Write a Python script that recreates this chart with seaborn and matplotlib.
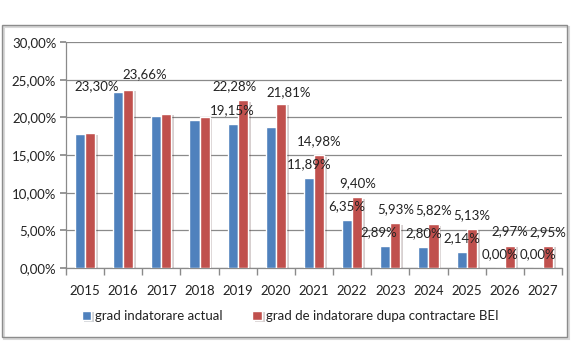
import pandas as pd
import matplotlib
matplotlib.use("Agg")
import matplotlib.pyplot as plt
import matplotlib.patheffects as pe
from matplotlib.patches import Rectangle
from matplotlib.ticker import FuncFormatter
import seaborn as sns

# data (percent)
years = ["2015", "2016", "2017", "2018", "2019", "2020", "2021",
         "2022", "2023", "2024", "2025", "2026", "2027"]
actual = [17.8, 23.30, 20.15, 19.7, 19.15, 18.7, 11.89,
          6.35, 2.89, 2.80, 2.14, 0.0, 0.0]
after_bei = [17.9, 23.66, 20.5, 20.0, 22.28, 21.81, 14.98,
             9.40, 5.93, 5.82, 5.13, 2.97, 2.95]
# which bars carry a data label in the original (Excel labels only on some)
actual_labeled = [False, True, False, False, True, False, True,
                  True, True, True, True, True, True]
after_labeled = [False, True, False, False, True, True, True,
                 True, True, True, True, True, True]
series_names = ["grad indatorare actual",
                "grad de indatorare dupa contractare BEI"]
colors = ["#4F81BD", "#C0504D"]

df = pd.DataFrame({
    "year": years * 2,
    "value": actual + after_bei,
    "series": [series_names[0]] * len(years) + [series_names[1]] * len(years),
})

sns.set_theme(style="white")
plt.rcParams["font.family"] = ["Lato", "DejaVu Sans"]
fs = 9.5

fig = plt.figure(figsize=(5.78, 3.64), dpi=100)
ax = fig.add_axes([66 / 578, 1 - 268 / 364, (562 - 66) / 578, (268 - 42) / 364])

sns.barplot(data=df, x="year", y="value", hue="series", palette=colors,
            width=0.53, saturation=1, ax=ax, zorder=3)

# bar shadows like the Excel style
for bar in ax.patches:
    bar.set_path_effects([pe.SimplePatchShadow(offset=(2, -1), alpha=0.2),
                          pe.Normal()])

# label offsets in pixels, tweaks for the few labels that were moved by hand
nudge = {(0, 1): (-21, 6), (1, 1): (16, 16), (1, 4): (-8, 14),
         (1, 5): (8, 12), (0, 8): (-6, 14)}
flags = [actual_labeled, after_labeled]
for s, cont in enumerate(ax.containers[:2]):
    for i, bar in enumerate(cont):
        if not flags[s][i]:
            continue
        h = bar.get_height()
        dx, dy = nudge.get((s, i), (0, 14))
        ax.annotate(f"{h:.2f}%".replace(".", ","),
                    (bar.get_x() + bar.get_width() / 2, h),
                    xytext=(dx, dy), textcoords="offset pixels",
                    ha="center", va="center", fontsize=fs, color="#222222",
                    zorder=5)

ax.set_ylim(0, 30)
ax.set_xlim(-0.5, len(years) - 0.5)
ax.set_yticks(range(0, 31, 5))
ax.yaxis.set_major_formatter(FuncFormatter(lambda v, p: f"{v:.2f}%".replace(".", ",")))
ax.grid(axis="y", color="#8a8a8a", lw=0.9, zorder=0)
ax.set_axisbelow(True)
ax.set_xlabel("")
ax.set_ylabel("")

for side in ["top", "right"]:
    ax.spines[side].set_visible(False)
for side in ["left", "bottom"]:
    ax.spines[side].set_color("#8a8a8a")
    ax.spines[side].set_linewidth(0.9)

ax.tick_params(axis="y", which="major", left=True, length=4, color="#8a8a8a",
               labelsize=fs, labelcolor="#222222", pad=3)
ax.tick_params(axis="x", which="major", bottom=False, labelsize=fs,
               labelcolor="#222222", pad=6)
ax.set_xticks([i - 0.5 for i in range(len(years) + 1)], minor=True)
ax.tick_params(axis="x", which="minor", bottom=True, length=5, color="#8a8a8a")

# legend centred on the whole chart box, not on the plot area
ax.legend(loc="center", bbox_to_anchor=((290 - 66) / 496, -48 / 226),
          ncol=2, frameon=False, fontsize=fs, handlelength=0.75,
          handleheight=0.75, handletextpad=0.3, columnspacing=2.2)
for t in ax.get_legend().get_texts():
    t.set_color("#222222")

# outer chart border with a light shadow
fig.patches.append(Rectangle((4 / 578, 1 - 339 / 364), 565 / 578, 312 / 364,
                             transform=fig.transFigure, fill=False,
                             edgecolor="#d8d8d8", lw=1.5))
fig.patches.append(Rectangle((2 / 578, 1 - 337 / 364), 565 / 578, 312 / 364,
                             transform=fig.transFigure, fill=False,
                             edgecolor="#8c8c8c", lw=1))

fig.savefig("out.png", dpi=100)
